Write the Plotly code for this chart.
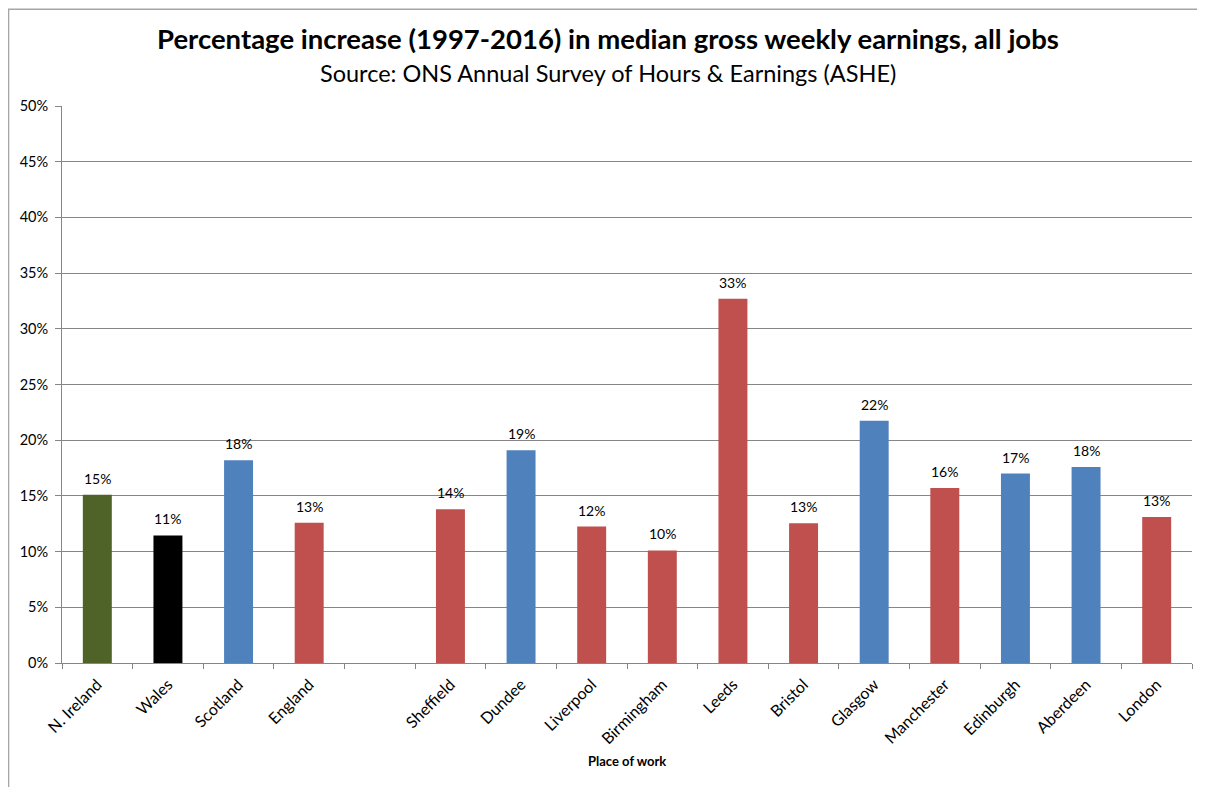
import plotly.graph_objects as go

categories = ["N. Ireland", "Wales", "Scotland", "England", " ",
              "Sheffield", "Dundee", "Liverpool", "Birmingham", "Leeds",
              "Bristol", "Glasgow", "Manchester", "Edinburgh", "Aberdeen", "London"]
values = [15.1, 11.45, 18.2, 12.6, None,
          13.8, 19.1, 12.25, 10.1, 32.7,
          12.55, 21.75, 15.7, 17.0, 17.6, 13.1]
groups = ["ni", "wales", "scot", "eng", "none",
          "eng", "scot", "eng", "eng", "eng",
          "eng", "scot", "eng", "scot", "scot", "eng"]
y_ticks = list(range(0, 55, 5))

palette = {"ni": "#4F6228", "wales": "#000000", "scot": "#4F81BD",
           "eng": "#C0504D", "none": "#FFFFFF"}
colors = [palette[g] for g in groups]

FONT = "Lato"

fig = go.Figure()
fig.add_trace(go.Bar(
    x=categories, y=values,
    marker=dict(color=colors, line=dict(width=0)),
    hoverinfo="x+y",
))

label_annotations = [
    dict(x=c, y=v, xref="x", yref="y", text=f"{v:.0f}%",
         showarrow=False, yanchor="bottom", xanchor="center", yshift=6,
         font=dict(family=FONT, size=14, color="#000000"))
    for c, v in zip(categories, values) if v is not None
]

fig.update_layout(
    width=1197, height=779,
    margin=dict(l=54, r=13, t=98, b=124),
    paper_bgcolor="white", plot_bgcolor="white",
    bargap=0.59,
    showlegend=False,
    font=dict(family=FONT, color="#000000"),
    xaxis=dict(
        type="category",
        categoryorder="array", categoryarray=categories,
        tickangle=-45,
        tickfont=dict(family=FONT, size=16, color="#000000"),
        showline=True, linecolor="#868686", linewidth=1,
        ticks="outside", tickson="boundaries", ticklen=5, tickcolor="#868686",
        ticklabelstandoff=5,
        showgrid=False,
    ),
    yaxis=dict(
        range=[0, 50],
        tickvals=y_ticks,
        ticktext=[f"{v}%" for v in y_ticks],
        tickfont=dict(family=FONT, size=14.5, color="#000000"),
        showline=True, linecolor="#868686", linewidth=1,
        ticks="outside", ticklen=6, tickcolor="#868686",
        ticklabelstandoff=4,
        showgrid=True, gridcolor="#868686", gridwidth=1,
        zeroline=False,
    ),
    annotations=label_annotations + [
        dict(text="<b>Percentage increase (1997-2016) in median gross weekly earnings, all jobs</b>",
             xref="paper", yref="paper", x=0.483, y=1.122, xanchor="center", yanchor="middle",
             showarrow=False, font=dict(family=FONT, size=27.5, color="#000000")),
        dict(text="Source: ONS Annual Survey of Hours & Earnings (ASHE)",
             xref="paper", yref="paper", x=0.483, y=1.059, xanchor="center", yanchor="middle",
             showarrow=False, font=dict(family=FONT, size=23.5, color="#000000")),
        dict(text="<b>Place of work</b>",
             xref="paper", yref="paper", x=0.5, y=-0.176, xanchor="center", yanchor="middle",
             showarrow=False, font=dict(family=FONT, size=13, color="#000000")),
    ],
    shapes=[
        dict(type="rect", xref="paper", yref="paper",
             x0=-0.0473, x1=1.0097, y0=-0.25, y1=1.1735,
             line=dict(color="#A6A6A6", width=1.5), fillcolor="rgba(0,0,0,0)", layer="below"),
    ],
)

fig.write_html("out.html")
